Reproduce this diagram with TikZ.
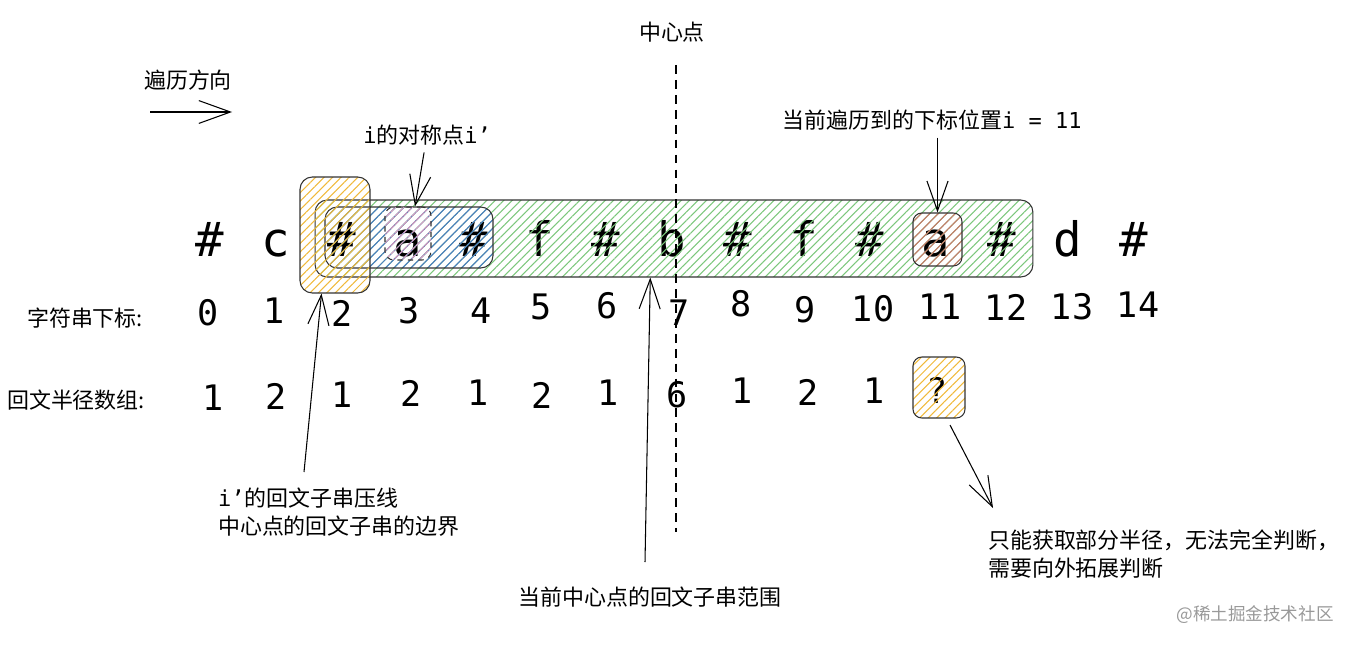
\documentclass[tikz,border=0pt]{standalone}
\usepackage{fontspec}
\setmainfont{Noto Sans CJK SC}
\newfontfamily\monofont{DejaVu Sans Mono}
\usetikzlibrary{arrows.meta, positioning, calc, patterns.meta}

\tikzset{
    hatch/.style={pattern={Lines[angle=45, distance=3.4pt, line width=0.6pt]}, pattern color=#1},
    hlbox/.style={draw=black!80, line width=0.6pt, rounded corners=7pt, inner sep=0pt, hatch=#1},
    arr/.style={line width=0.6pt, -{Straight Barb[length=17pt, width=12pt]}},
    chr/.style={font=\monofont\fontsize{27}{30}\selectfont, anchor=base, inner sep=0pt},
    num/.style={font=\monofont\fontsize{20}{24}\selectfont, inner sep=0pt},
    lbl/.style={font=\fontsize{12.5}{16}\selectfont, inner sep=1pt, align=left}
}
\definecolor{hlyellow}{HTML}{F0B93A}
\definecolor{hlgreen}{HTML}{7CC77C}
\definecolor{hlblue}{HTML}{4A7CC4}
\definecolor{hlpink}{HTML}{D99AC0}
\definecolor{hlred}{HTML}{C97A6A}

\begin{document}
\begin{tikzpicture}[x=0.02cm, y=-0.02cm]
    \useasboundingbox (0,0) rectangle (1354,645);
    % string, indices, radius array
    \foreach \ch [count=\k from 0] in {\#,c,\#,a,\#,f,\#,b,\#,f,\#,a,\#,d,\#}
        \node[chr] (c\k) at ({210+66*\k},256) {\ch};
    \foreach \n/\px/\py in {0/208/313, 1/274/311, 2/342/313, 3/409/311, 4/481/311,
            5/541/307, 6/607/306, 7/679/313, 8/741/304, 9/805/310, 10/873/309,
            11/940/307, 12/1006/307, 13/1072/307, 14/1138/305}
        \node[num] (i\n) at (\px,\py) {\n};
    \foreach \v/\px/\py [count=\k from 0] in {1/213/398, 2/276/396, 1/342/395, 2/411/393,
            1/478/393, 2/542/395, 1/608/393, 6/677/395, 1/742/391, 2/808/392,
            1/874/391, ?/937/390}
        \node[num] (r\k) at (\px,\py) {\v};
    \node[lbl, anchor=west] (idxlbl) at (25,318) {字符串下标:};
    \node[lbl, anchor=west] (radlbl) at (5,400) {回文半径数组:};

    % highlighted ranges
    \node[hlbox=hlgreen, minimum width=14.36cm, minimum height=1.54cm] (boxg) at (674,238.5) {};
    \node[hlbox=hlblue, minimum width=3.36cm, minimum height=1.22cm] (boxb) at (409,237.5) {};
    \node[hlbox=hlyellow, minimum width=1.4cm, minimum height=2.32cm] (boxy) at (335,235) {};
    \node[hlbox=hlpink, dashed, rounded corners=5pt, minimum width=0.92cm, minimum height=1.06cm] (boxia) at (408,233.5) {};
    \node[hlbox=hlred, rounded corners=5pt, minimum width=0.98cm, minimum height=1.06cm] (boxi) at (937.5,239.5) {};
    \node[hlbox=hlyellow, rounded corners=5pt, minimum width=1.04cm, minimum height=1.22cm] (boxq) at (939,387.5) {};

    % center line
    \node[lbl] (ctrlbl) at (672,32) {中心点};
    \coordinate (ctop) at (676,65);
    \coordinate (cbot) at (676,532);
    \draw[line width=0.6pt, dash pattern=on 5pt off 3.5pt] (ctop) -- (cbot);

    % direction
    \node[lbl] (dirlbl) at (188,80) {遍历方向};
    \coordinate (dirA) at (150,112);
    \coordinate (dirB) at (232,112);
    \draw[arr, -{Straight Barb[length=18pt, width=13pt]}] (dirA) -- (dirB);

    % labels with arrows
    \node[lbl] (symlbl) at (427,135) {{\monofont i}的对称点{\monofont i’}};
    \draw[arr, shorten <=3pt] (symlbl) -- ([xshift=4pt]boxia.north);
    \node[lbl] (curlbl) at (932,120) {当前遍历到的下标位置{\monofont i = 11}};
    \draw[arr, shorten <=3pt] (curlbl.south -| boxi.north) -- (boxi.north);

    \node[lbl, anchor=north west] (bllbl) at (216,486) {{\monofont i’}的回文子串压线\\中心点的回文子串的边界};
    \coordinate (blA) at (304,472);
    \draw[arr] (blA) -- ($(boxy.south west)!0.31!(boxy.south east)$);

    \node[lbl] (bclbl) at (650,597) {当前中心点的回文子串范围};
    \coordinate (bcA) at (645,562);
    \draw[arr] (bcA) -- ($(boxg.south west)!0.467!(boxg.south east)$);

    \node[lbl, anchor=north west] (brlbl) at (986,528) {只能获取部分半径，无法完全判断，\\需要向外拓展判断};
    \coordinate (qA) at (950,425);
    \coordinate (qB) at (993,508);
    \draw[arr] (qA) -- (qB);

    \node[font=\fontsize{10}{12}\selectfont, text=black!40] (mark) at (1255,615) {@稀土掘金技术社区};
\end{tikzpicture}
\end{document}
